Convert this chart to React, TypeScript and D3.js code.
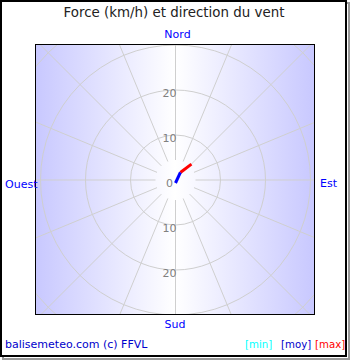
import React from "react";
import * as d3 from "d3";

const title = "Force (km/h) et direction du vent";
const directionLabels = ["Nord", "Est", "Sud", "Ouest"];
const ringValues = [10, 20, 30, 40];
const tickLabels = [0, 10, 20];
const spokeAngles = d3.range(0, 360, 22.5);
const windMoy = { speed: 2, dir: 33 };
const windMax = { speed: 5, dir: 45 };
const legendItems = [
  { label: "[min]", color: "#00ffff" },
  { label: "[moy]", color: "#0000cc" },
  { label: "[max]", color: "#ff0000" },
];
const footer = "balisemeteo.com (c) FFVL";

export default function App() {
  const W = 350, H = 360;
  const frame = { x0: 35, y0: 44, x1: 315, y1: 315 };
  const cx = 175.5, cy = 180;
  const r = d3.scaleLinear().domain([0, 10]).range([0, 45]);
  const font = "DejaVu Sans, sans-serif";
  const pt = (speed: number, dir: number) => {
    const a = (dir * Math.PI) / 180;
    return [cx + r(speed) * Math.sin(a), cy - r(speed) * Math.cos(a)];
  };
  const [mx, my] = pt(windMoy.speed, windMoy.dir);
  const [xx, xy] = pt(windMax.speed, windMax.dir);
  const legendX = [245, 281, 315];
  const dirPos: Record<string, [number, number, string]> = {
    Nord: [177.5, 34, "middle"],
    Est: [320, 183, "start"],
    Sud: [175, 324, "middle"],
    Ouest: [5, 184, "start"],
  };
  return (
    <svg width={W} height={H} style={{ position: "absolute", left: 0, top: 0 }} fontFamily={font}>
      <defs>
        <linearGradient id="bg" x1="0" x2="1" y1="0" y2="0">
          <stop offset="0" stopColor="rgb(200,200,255)" />
          <stop offset="0.5" stopColor="#ffffff" />
          <stop offset="1" stopColor="rgb(200,200,255)" />
        </linearGradient>
        <clipPath id="clip">
          <rect x={frame.x0} y={frame.y0} width={frame.x1 - frame.x0} height={frame.y1 - frame.y0} />
        </clipPath>
      </defs>
      <rect x={0} y={0} width={W} height={H} fill="#ffffff" />
      <rect x={3} y={3} width={346} height={356} fill="none" stroke="#999" strokeWidth={2} />
      <rect x={1} y={1} width={345} height={355} fill="#ffffff" stroke="#000" strokeWidth={2} />
      <text x={W / 2 - 1} y={17} textAnchor="middle" fontSize={13.4} fill="#222">{title}</text>
      <rect x={frame.x0} y={frame.y0} width={frame.x1 - frame.x0} height={frame.y1 - frame.y0} fill="url(#bg)" />
      <g clipPath="url(#clip)" stroke="#cfcfcf" strokeWidth={1} fill="none">
        {ringValues.map((v) => (
          <circle key={v} cx={cx} cy={cy} r={r(v)} />
        ))}
        {spokeAngles.map((a) => {
          const t = (a * Math.PI) / 180;
          const r0 = 20, r1 = 300;
          return (
            <line key={a} x1={cx + r0 * Math.sin(t)} y1={cy - r0 * Math.cos(t)} x2={cx + r1 * Math.sin(t)} y2={cy - r1 * Math.cos(t)} />
          );
        })}
      </g>
      <rect x={frame.x0 + 0.5} y={frame.y0 + 0.5} width={frame.x1 - frame.x0 - 1} height={frame.y1 - frame.y0 - 1} fill="none" stroke="#000" strokeWidth={1} />
      {tickLabels.map((v) => (
        <g key={v}>
          <text x={169.5} y={cy - r(v) + 3} dy="0.35em" textAnchor="middle" fontSize={11} fill="#808080">{v}</text>
          {v > 0 && (
            <text x={169.5} y={cy + r(v) + 3} dy="0.35em" textAnchor="middle" fontSize={11} fill="#808080">{v}</text>
          )}
        </g>
      ))}
      <line x1={mx} y1={my} x2={xx} y2={xy} stroke="#ff0000" strokeWidth={3} />
      <line x1={cx} y1={cy + 3} x2={mx} y2={my} stroke="#0000ff" strokeWidth={3} />
      {directionLabels.map((d) => (
        <text key={d} x={dirPos[d][0]} y={dirPos[d][1]} dy="0.35em" textAnchor={dirPos[d][2] as any} fontSize={11} fill="#0000ff">{d}</text>
      ))}
      <text x={5} y={348} fontSize={11} fill="#0000cc">{footer}</text>
      {legendItems.map((l, i) => (
        <text key={l.label} x={legendX[i]} y={348} fontSize={10.2} fill={l.color}>{l.label}</text>
      ))}
    </svg>
  );
}
